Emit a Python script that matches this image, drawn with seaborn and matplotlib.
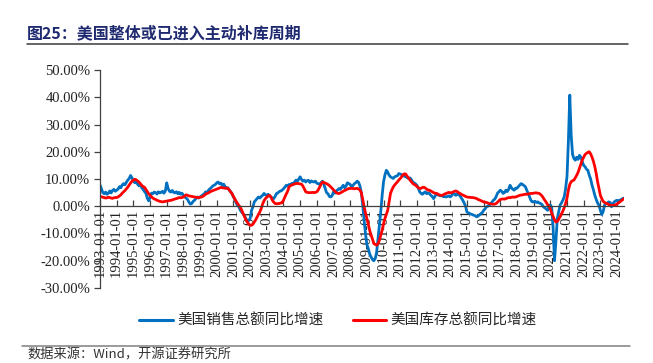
import numpy as np
import pandas as pd
import seaborn as sns
import matplotlib
matplotlib.use("Agg")
import matplotlib.pyplot as plt
from matplotlib.lines import Line2D

# ---------------- data (monthly YoY %, 1993-01 .. 2024-06) ----------------
sales_yoy = [
    7.8, 6.5, 5.0, 4.6, 5.2, 4.4, 4.8, 5.6, 4.9, 5.8, 6.2, 5.5,          # 1993
    5.9, 6.3, 7.2, 6.8, 7.8, 8.3, 7.9, 8.8, 9.6, 10.2, 11.3, 10.4,       # 1994
    9.4, 8.6, 9.0, 8.1, 7.5, 8.0, 6.8, 6.2, 5.4, 4.8, 3.0, 2.0,          # 1995
    3.2, 4.8, 4.6, 5.2, 5.0, 4.5, 5.3, 4.9, 5.1, 5.5, 4.8, 5.6,          # 1996
    8.6, 6.5, 5.5, 5.2, 5.8, 5.1, 4.9, 5.3, 4.6, 5.1, 4.4, 4.8,          # 1997
    4.0, 3.4, 3.0, 2.5, 1.5, 0.8, 1.0, 1.8, 2.2, 2.8, 3.4, 3.0,          # 1998
    3.4, 3.8, 4.2, 4.6, 5.3, 5.0, 5.8, 6.4, 6.8, 7.4, 7.7, 8.0,          # 1999
    8.6, 8.9, 8.2, 8.5, 7.6, 8.1, 7.2, 6.6, 6.8, 5.9, 5.4, 4.6,          # 2000
    3.4, 2.6, 1.2, 0.2, -0.2, -1.5, -2.2, -2.8, -3.6, -4.5, -5.8, -5.2,  # 2001
    -4.5, -1.5, -0.3, 1.6, 2.2, 2.8, 3.4, 3.0, 3.6, 4.0, 4.7, 4.2,       # 2002
    4.0, 4.4, 3.8, 3.4, 3.0, 2.8, 3.6, 4.7, 4.9, 5.4, 5.6, 5.9,          # 2003
    6.4, 7.0, 7.7, 7.4, 8.0, 7.7, 8.4, 8.0, 8.9, 9.6, 9.2, 10.0,         # 2004
    10.8, 9.8, 9.2, 9.6, 8.9, 9.4, 9.5, 8.7, 9.3, 9.0, 8.9, 9.2,         # 2005
    8.4, 8.3, 8.0, 8.6, 9.2, 8.1, 6.5, 5.0, 4.6, 3.6, 3.4, 3.9,          # 2006
    5.3, 4.8, 5.6, 6.0, 6.5, 6.2, 7.0, 7.7, 6.8, 7.4, 8.6, 8.3,          # 2007
    8.0, 7.1, 7.6, 8.3, 8.6, 9.2, 8.8, 7.5, 5.0, 0.5, -5.0, -10.0,       # 2008
    -14.0, -15.5, -17.5, -18.6, -19.5, -20.0, -19.2, -17.0, -12.0, -7.0, -2.0, 4.0,  # 2009
    9.0, 11.5, 13.2, 12.5, 11.4, 10.8, 10.5, 10.2, 10.8, 11.0, 11.2, 12.0,  # 2010
    11.8, 11.6, 11.4, 11.0, 10.8, 10.5, 10.2, 10.4, 9.8, 8.9, 8.6, 8.2,  # 2011
    7.7, 6.6, 5.3, 4.7, 4.4, 4.9, 5.3, 4.6, 4.9, 4.7, 4.0, 3.6,          # 2012
    2.8, 3.6, 4.7, 4.2, 4.0, 3.8, 4.0, 3.5, 3.6, 3.4, 3.6, 3.8,          # 2013
    3.4, 3.9, 4.7, 4.5, 4.0, 4.6, 4.3, 3.8, 3.0, 2.2, 1.2, 0.0,          # 2014
    -2.1, -2.4, -2.7, -2.9, -3.1, -3.3, -3.5, -3.9, -3.6, -3.2, -2.7, -2.4,  # 2015
    -1.5, -1.0, -0.2, 0.0, 0.4, 0.8, 1.5, 2.2, 2.6, 3.5, 4.8, 5.3,       # 2016
    5.9, 5.5, 4.7, 5.0, 5.9, 5.4, 6.2, 7.7, 6.8, 6.2, 5.9, 6.6,          # 2017
    6.6, 7.2, 7.8, 8.3, 8.0, 7.6, 7.2, 6.0, 4.7, 3.5, 2.2, 1.6,          # 2018
    1.6, 1.8, 1.4, 1.6, 1.2, 1.0, 0.6, -0.2, -0.6, -1.0, -1.5, -0.2,     # 2019
    0.5, -0.5, -8.0, -20.0, -13.0, -4.5, -2.0, 0.4, 1.2, 2.2, 3.5, 6.5,  # 2020
    11.0, 24.0, 40.8, 26.0, 19.0, 17.5, 16.9, 18.0, 17.2, 18.7, 18.0, 16.3,  # 2021
    15.0, 14.5, 13.6, 13.2, 11.4, 10.0, 7.7, 6.0, 4.0, 2.5, 1.2, 0.4,    # 2022
    -1.5, -3.0, -2.0, 0.4, 1.0, 1.2, 1.6, 1.4, -0.2, 1.0, 1.6, 2.0,      # 2023
    2.2, 2.0, 2.2, 2.5, 2.8, 3.0,                                        # 2024
]

inventory_yoy = [
    3.4, 3.5, 3.3, 3.2, 3.0, 3.1, 3.3, 3.2, 3.0, 2.9, 3.1, 3.2,          # 1993
    3.2, 3.4, 3.8, 4.2, 4.8, 5.3, 5.8, 6.4, 7.0, 7.8, 8.5, 9.2,          # 1994
    9.5, 9.9, 9.7, 9.3, 8.9, 8.3, 7.7, 7.2, 7.0, 6.2, 5.4, 4.6,          # 1995
    4.0, 3.5, 3.0, 2.7, 2.5, 2.2, 2.0, 1.8, 1.7, 1.6, 1.7, 1.8,          # 1996
    1.9, 2.0, 2.1, 2.2, 2.3, 2.5, 2.7, 2.8, 3.0, 3.2, 3.1, 3.2,          # 1997
    3.4, 3.8, 4.2, 4.0, 3.8, 3.7, 3.6, 3.5, 3.4, 3.3, 3.2, 3.2,          # 1998
    3.3, 3.4, 3.6, 4.0, 4.4, 4.7, 4.9, 5.2, 5.5, 5.7, 5.9, 6.1,          # 1999
    6.3, 6.5, 6.7, 6.9, 6.8, 6.7, 6.6, 6.7, 6.5, 6.0, 5.2, 4.6,          # 2000
    3.6, 2.6, 1.8, 1.0, 0.2, -0.4, -1.5, -2.7, -3.8, -5.0, -5.8, -6.5,   # 2001
    -7.0, -7.0, -6.6, -5.8, -5.0, -4.0, -3.0, -2.1, -0.8, 0.8, 2.0, 2.8, # 2002
    3.3, 3.8, 4.0, 3.4, 2.2, 1.5, 1.0, 0.9, 1.0, 1.0, 1.2, 1.3,          # 2003
    2.2, 3.4, 4.5, 5.5, 7.1, 7.5, 7.8, 8.0, 8.2, 8.3, 8.4, 8.3,          # 2004
    8.2, 8.1, 7.4, 6.4, 5.3, 5.1, 5.0, 5.0, 5.0, 5.1, 5.0, 5.1,          # 2005
    5.3, 6.0, 7.0, 8.0, 8.9, 8.8, 8.5, 8.3, 8.0, 7.6, 7.1, 6.6,          # 2006
    6.0, 5.5, 5.0, 4.7, 4.7, 4.9, 5.2, 5.5, 5.8, 6.0, 6.3, 6.5,          # 2007
    6.5, 6.6, 6.5, 6.4, 6.5, 6.6, 6.3, 6.0, 5.0, 2.5, 0.0, -2.5,         # 2008
    -4.5, -6.5, -8.8, -10.5, -12.0, -13.7, -14.0, -14.3, -13.8, -12.5, -10.7, -8.8,  # 2009
    -6.4, -4.5, -3.0, -1.5, 1.5, 4.7, 6.0, 7.1, 7.8, 8.4, 9.0, 9.6,      # 2010
    10.2, 10.8, 11.5, 11.9, 11.8, 11.0, 10.4, 9.6, 9.0, 8.4, 8.0, 7.7,   # 2011
    7.3, 6.8, 6.5, 6.6, 6.9, 7.0, 6.7, 6.3, 5.9, 5.9, 5.6, 5.3,          # 2012
    5.0, 4.8, 4.7, 4.5, 4.2, 4.0, 4.0, 4.2, 4.5, 4.7, 4.9, 5.1,          # 2013
    4.9, 5.0, 5.2, 5.5, 5.6, 5.4, 5.0, 4.7, 4.4, 4.1, 3.9, 3.6,          # 2014
    3.4, 3.3, 3.3, 3.2, 3.2, 3.1, 3.0, 2.8, 2.5, 2.3, 2.1, 1.8,          # 2015
    1.6, 1.5, 1.4, 1.2, 1.0, 0.9, 0.8, 0.7, 0.8, 1.0, 1.5, 2.0,          # 2016
    2.5, 2.6, 2.7, 2.6, 2.8, 3.0, 3.2, 3.1, 3.3, 3.4, 3.3, 3.4,          # 2017
    3.6, 3.8, 4.0, 4.1, 4.2, 4.3, 4.4, 4.4, 4.5, 4.6, 4.7, 4.7,          # 2018
    4.8, 4.9, 4.9, 4.8, 4.7, 4.3, 3.8, 3.0, 2.2, 1.5, 0.6, 0.0,          # 2019
    -1.0, -2.5, -3.8, -5.0, -5.8, -5.6, -4.8, -3.8, -2.8, -1.8, -0.5, 1.0,  # 2020
    3.0, 6.0, 8.0, 9.0, 9.4, 9.6, 10.5, 11.4, 12.5, 14.0, 15.5, 17.0,    # 2021
    18.0, 19.0, 19.4, 19.8, 20.0, 19.2, 18.0, 16.5, 14.5, 12.0, 9.0, 6.5,  # 2022
    4.0, 2.8, 1.8, 1.4, 1.1, 1.0, 0.6, 0.4, 0.3, 0.3, 0.4, 0.5,          # 2023
    0.9, 1.2, 1.6, 2.0, 2.4, 2.8,                                        # 2024
]

tick_years = list(range(1993, 2025))
tick_labels = [f"{y}-01-01" for y in tick_years]
y_ticks = [-30, -20, -10, 0, 10, 20, 30, 40, 50]
series_names = ["美国销售总额同比增速", "美国库存总额同比增速"]
colors = ["#0070C0", "#FF0000"]

title_text = "图25：美国整体或已进入主动补库周期"
source_text = "数据来源：Wind，开源证券研究所"

# ---------------- build frame ----------------
n = len(sales_yoy)
df = pd.DataFrame({
    "idx": list(range(n)) * 2,
    "value": sales_yoy + inventory_yoy,
    "series": [series_names[0]] * n + [series_names[1]] * len(inventory_yoy),
})

sns.set_style("ticks")
plt.rcParams["font.family"] = ["Liberation Serif", "Noto Sans CJK SC"]
cjk = ["Noto Sans CJK SC", "DejaVu Sans"]

W, H = 653, 363
fig = plt.figure(figsize=(W / 100, H / 100), dpi=100)
ax = fig.add_axes([100 / W, 1 - 288 / H, (624 - 100) / W, (288 - 70) / H])

sns.lineplot(data=df, x="idx", y="value", hue="series", palette=colors,
             hue_order=series_names, linewidth=2.0, ax=ax, legend=False)

ax.set_xlim(0, n - 1)
ax.set_ylim(-30, 50)
ax.set_xlabel("")
ax.set_ylabel("")

ax.spines["top"].set_visible(False)
ax.spines["right"].set_visible(False)
ax.spines["bottom"].set_position(("data", 0))
for s in ("left", "bottom"):
    ax.spines[s].set_color("#404040")
    ax.spines[s].set_linewidth(0.9)

ax.set_xticks([i * 12 for i in range(len(tick_years))])
ax.set_xticklabels(tick_labels, rotation=90, fontsize=10.5)
ax.set_yticks(y_ticks)
ax.set_yticklabels([f"{v:.2f}%" for v in y_ticks], fontsize=10.5)
ax.tick_params(axis="x", direction="in", length=4, width=0.9, color="#404040", pad=2)
ax.tick_params(axis="y", direction="out", length=4, width=0.9, color="#404040", pad=3)
for lab in ax.get_xticklabels() + ax.get_yticklabels():
    lab.set_color("#222222")

# legend
handles = [Line2D([0], [0], color=c, lw=2.2) for c in colors]
fig.legend(handles, series_names, loc="center", bbox_to_anchor=(338 / W, 1 - 321 / H),
           ncol=2, frameon=False, prop={"family": cjk, "size": 10.5},
           handlelength=2.3, handletextpad=0.3, columnspacing=2.0)

# title and rules
fig.text(27 / W, 1 - 33 / H, title_text, fontsize=11.5, fontweight="bold",
         color="#1F2A70", family=cjk, va="center", ha="left")
fig.add_artist(Line2D([27 / W, 628 / W], [1 - 44 / H, 1 - 44 / H],
                      color="#3A3A3A", lw=1.1))
fig.add_artist(Line2D([22 / W, 630 / W], [1 - 346 / H, 1 - 346 / H],
                      color="#808080", lw=1.1))
fig.text(27 / W, 1 - 355 / H, source_text, fontsize=9.5, color="#333333",
         family=cjk, va="center", ha="left")

fig.savefig("out.png", dpi=100)
